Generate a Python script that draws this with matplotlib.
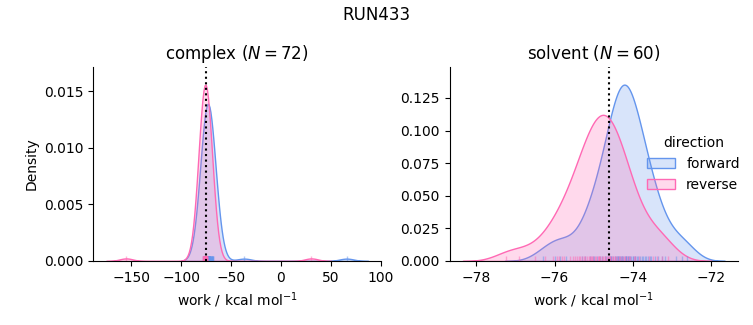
import numpy as np
import matplotlib
matplotlib.use("Agg")
import matplotlib.pyplot as plt
from matplotlib.colors import to_rgba

run_name = "RUN433"

complex_forward = [
    -78.0, -77.4, -77.1, -76.7, -76.5, -76.2, -76.0, -75.8, -75.6, -75.5,
    -75.3, -75.1, -75.0, -74.9, -74.7, -74.6, -74.5, -74.4, -74.3, -74.2,
    -74.1, -74.0, -73.9, -73.9, -73.8, -73.7, -73.6, -73.5, -73.5, -73.4,
    -73.3, -73.2, -73.1, -73.0, -73.0, -72.9, -72.8, -72.7, -72.6, -72.5,
    -72.4, -72.3, -72.2, -72.1, -72.0, -71.9, -71.8, -71.6, -71.5, -71.3,
    -71.1, -70.9, -70.7, -70.5, -70.2, -70.0, -69.7, -69.4, -69.1, -68.8,
    -68.5, -68.2, -67.8, -67.5, -74.8, -73.2, -72.5, -71.7, -75.2, -74.0,
    -36.7, 66.0,
]
complex_reverse = [
    -78.4, -78.0, -77.7, -77.5, -77.3, -77.1, -77.0, -76.9, -76.8, -76.7,
    -76.6, -76.5, -76.5, -76.4, -76.3, -76.3, -76.2, -76.1, -76.1, -76.0,
    -76.0, -75.9, -75.9, -75.8, -75.8, -75.7, -75.7, -75.7, -75.6, -75.6,
    -75.5, -75.5, -75.5, -75.4, -75.4, -75.3, -75.3, -75.2, -75.2, -75.1,
    -75.1, -75.0, -75.0, -74.9, -74.8, -74.8, -74.7, -74.6, -74.5, -74.4,
    -74.3, -74.2, -74.0, -73.9, -73.7, -73.5, -75.6, -75.8, -76.0, -75.4,
    -75.9, -75.3, -76.2, -74.9, -75.6, -75.1, -76.4, -74.6, -75.7, -75.5,
    -155.0, 30.6,
]
solvent_forward = [
    -76.3, -76.0, -75.85, -75.7, -75.31, -75.23, -75.10, -75.02, -74.93, -74.85,
    -74.80, -74.72, -74.68, -74.63, -74.59, -74.55, -74.51, -74.46, -74.42, -74.39,
    -74.38, -74.34, -74.29, -74.28, -74.25, -75.0, -74.21, -74.18, -74.17, -74.14,
    -74.12, -74.08, -74.04, -74.01, -73.99, -73.95, -73.91, -73.87, -73.83, -73.78,
    -73.74, -73.70, -73.66, -73.61, -73.57, -73.53, -73.44, -73.36, -73.27, -73.19,
    -72.9, -72.75, -72.63, -74.44, -74.31, -74.19, -74.10, -73.94, -74.55, -74.36,
]
solvent_reverse = [
    -77.24, -76.9, -76.5, -76.25, -76.05, -75.95, -75.9, -75.8, -75.75, -75.52,
    -75.47, -75.43, -75.35, -75.30, -75.26, -75.22, -75.18, -75.13, -75.09, -75.05,
    -75.01, -74.96, -74.94, -74.90, -74.88, -74.84, -74.79, -74.77, -75.6, -74.72,
    -74.71, -74.67, -74.62, -74.60, -74.58, -74.54, -74.50, -74.45, -74.41, -74.37,
    -74.33, -74.28, -74.24, -74.20, -74.16, -74.11, -74.07, -73.98, -73.94, -73.86,
    -73.6, -73.5, -73.4, -73.25, -73.1, -75.06, -74.86, -74.64, -75.39, -74.47,
]
complex_delta_f = -74.7
solvent_delta_f = -74.62

directions = ["forward", "reverse"]
palette = {"forward": "cornflowerblue", "reverse": "hotpink"}
# densities are normalised over all work values of the run
n_total = len(complex_forward) + len(complex_reverse) + len(solvent_forward) + len(solvent_reverse)


def kde(values, cut=3, gridsize=200):
    v = np.asarray(values, dtype=float)
    bw = v.std(ddof=1) * len(v) ** (-1 / 5)
    x = np.linspace(v.min() - cut * bw, v.max() + cut * bw, gridsize)
    z = (x[:, None] - v[None, :]) / bw
    y = np.exp(-0.5 * z ** 2).sum(axis=1) / (len(v) * bw * np.sqrt(2 * np.pi))
    return x, y * len(v) / n_total


def plot_phase(ax, works, delta_f, phase, legend=False):
    top = 0
    for d in directions:
        x, y = kde(works[d])
        c = palette[d]
        ax.fill_between(x, 0, y, facecolor=to_rgba(c, 0.25), edgecolor=c,
                        lw=1, label=d)
        top = max(top, y.max())
    for d in directions:
        ax.vlines(works[d], 0, 0.025, transform=ax.get_xaxis_transform(),
                  color=palette[d], alpha=0.5, lw=1)
    ax.axvline(delta_f, color="k", ls=":")
    ax.set_ylim(0, top * 1.1)
    ax.set_title(f"{phase} ($N = {len(works['forward'])}$)")
    ax.set_xlabel(r"work / kcal mol$^{-1}$")
    ax.spines["top"].set_visible(False)
    ax.spines["right"].set_visible(False)
    if legend:
        ax.legend(title="direction", frameon=False, loc="center right",
                  bbox_to_anchor=(1.05, 0.5))


fig, (ax1, ax2) = plt.subplots(ncols=2, figsize=(7.53, 3.25), dpi=100)
plot_phase(ax1, {"forward": complex_forward, "reverse": complex_reverse},
           complex_delta_f, "complex")
plot_phase(ax2, {"forward": solvent_forward, "reverse": solvent_reverse},
           solvent_delta_f, "solvent", legend=True)
ax1.set_ylabel("Density")
fig.suptitle(run_name)
fig.subplots_adjust(left=0.1235, right=0.980, bottom=0.197, top=0.794, wspace=0.236)
fig.savefig("out.png")
